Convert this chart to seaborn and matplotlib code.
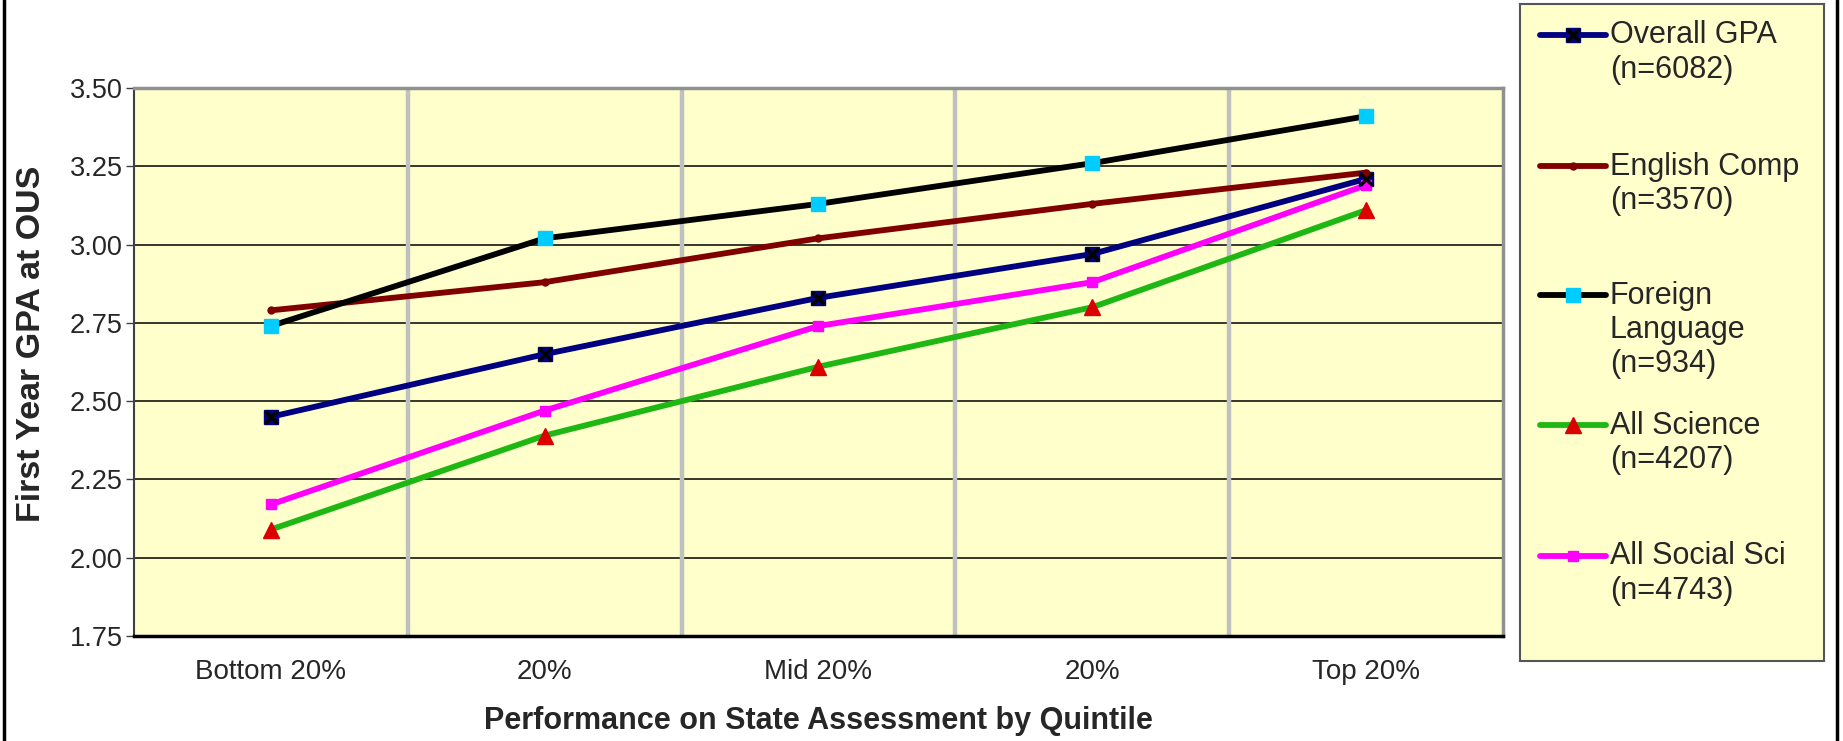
import numpy as np
import pandas as pd
import matplotlib
matplotlib.use("Agg")
import matplotlib.pyplot as plt
import matplotlib.lines as mlines
import seaborn as sns

# ----------------------------
# Data
# ----------------------------
quintiles = ["Bottom 20%", "20%", "Mid 20%", "20% ", "Top 20%"]
tick_labels = ["Bottom 20%", "20%", "Mid 20%", "20%", "Top 20%"]

series_names = ["Overall GPA", "English Comp", "Foreign Language", "All Science", "All Social Sci"]
legend_labels = ["Overall GPA\n(n=6082)", "English Comp\n(n=3570)",
                 "Foreign\nLanguage\n(n=934)", "All Science\n(n=4207)",
                 "All Social Sci\n(n=4743)"]

overall_gpa = [2.45, 2.65, 2.83, 2.97, 3.21]
english_comp = [2.79, 2.88, 3.02, 3.13, 3.23]
foreign_lang = [2.74, 3.02, 3.13, 3.26, 3.41]
all_science = [2.09, 2.39, 2.61, 2.80, 3.11]
all_social = [2.17, 2.47, 2.74, 2.88, 3.19]

y_ticks = [1.75, 2.00, 2.25, 2.50, 2.75, 3.00, 3.25, 3.50]

# ----------------------------
# Styles
# ----------------------------
line_colors = {"Overall GPA": "#000080", "English Comp": "#800000",
               "Foreign Language": "#000000", "All Science": "#1FB714",
               "All Social Sci": "#FF00FF"}
markers = {"Overall GPA": "s", "English Comp": "o", "Foreign Language": "s",
           "All Science": "^", "All Social Sci": "s"}
marker_face = {"Overall GPA": "#000080", "English Comp": "#800000",
               "Foreign Language": "#00CCFF", "All Science": "#DD0000",
               "All Social Sci": "#FF00FF"}
marker_size = {"Overall GPA": 10, "English Comp": 5, "Foreign Language": 10,
               "All Science": 11, "All Social Sci": 7}

values = [overall_gpa, english_comp, foreign_lang, all_science, all_social]
df = pd.DataFrame({
    "quintile": quintiles * len(series_names),
    "gpa": np.concatenate(values),
    "series": np.repeat(series_names, len(quintiles)),
})

FONT = "Liberation Sans"
sns.set_style("white")
plt.rcParams["font.family"] = [FONT, "DejaVu Sans"]

fig = plt.figure(figsize=(18.43, 7.41), dpi=100)
ax = fig.add_axes([0.0727, 0.1417, 0.7428, 0.7395])
ax.set_facecolor("#FFFFCC")

# lines (seaborn), then markers on top per series
sns.lineplot(data=df, x="quintile", y="gpa", hue="series", hue_order=series_names,
             palette=line_colors, sort=False, linewidth=4.2, legend=False,
             ax=ax, zorder=3)
xpos = np.arange(len(quintiles))
for name, vals in zip(series_names, values):
    ax.plot(xpos, vals, linestyle="none", marker=markers[name],
            markersize=marker_size[name], markerfacecolor=marker_face[name],
            markeredgecolor=marker_face[name], zorder=4)
ax.plot(xpos, overall_gpa, linestyle="none", marker="x", markersize=8,
        markeredgewidth=2.5, color="black", zorder=5)

# axes limits / grid
ax.set_xlim(-0.5, len(quintiles) - 0.5)
ax.set_ylim(1.75, 3.5)
ax.set_yticks(y_ticks)
ax.set_yticklabels([f"{v:.2f}" for v in y_ticks], fontsize=19.5)
ax.set_xticks(xpos)
ax.set_xticklabels(tick_labels, fontsize=20)
ax.set_xticks(np.arange(-0.5, len(quintiles)), minor=True)
ax.tick_params(axis="x", which="major", length=0, pad=16.5)
ax.tick_params(axis="x", which="minor", length=6, width=1, color="#404040",
               direction="out")
ax.tick_params(axis="y", length=6, width=1, color="#404040", direction="out",
               pad=2, left=True)
for y in y_ticks[1:-1]:
    ax.axhline(y, color="black", linewidth=1.1, zorder=1)
for xb in np.arange(0.5, len(quintiles) - 0.5):
    ax.axvline(xb, color="#C0C0C0", linewidth=3.2, zorder=1)

ax.spines["left"].set_color("#404040")
ax.spines["left"].set_linewidth(1.5)
ax.spines["bottom"].set_color("black")
ax.spines["bottom"].set_linewidth(2.5)
for s in ("top", "right"):
    ax.spines[s].set_visible(True)
    ax.spines[s].set_color("#909090")
    ax.spines[s].set_linewidth(2.5)

ax.set_xlabel("Performance on State Assessment by Quintile", fontsize=22,
              fontweight="bold", labelpad=15)
ax.set_ylabel("First Year GPA at OUS", fontsize=24.5, fontweight="bold")
ax.yaxis.set_label_coords(-0.0638, 0.533)

# ----------------------------
# Legend box (drawn in its own axes, handles aligned with first text line)
# ----------------------------
lax = fig.add_axes([0.8247, 0.108, 0.165, 0.8866])
lax.set_facecolor("#FFFFCC")
lax.set_xlim(0, 1)
lax.set_ylim(0, 1)
lax.set_xticks([])
lax.set_yticks([])
for s in lax.spines.values():
    s.set_color("#555555")
    s.set_linewidth(1.5)
entry_y = [0.953, 0.753, 0.557, 0.359, 0.160]
for name, label, ly in zip(series_names, legend_labels, entry_y):
    lax.add_line(mlines.Line2D([0.066, 0.283], [ly, ly], color=line_colors[name],
                               linewidth=4.2))
    lax.add_line(mlines.Line2D([0.1745], [ly], linestyle="none", marker=markers[name],
                               markersize=marker_size[name],
                               markerfacecolor=marker_face[name],
                               markeredgecolor=marker_face[name]))
    if name == "Overall GPA":
        lax.add_line(mlines.Line2D([0.1745], [ly], linestyle="none", marker="x",
                                   markersize=8, markeredgewidth=2.5, color="black"))
    lax.text(0.296, ly + 0.022, label, fontsize=22, va="top", ha="left",
             linespacing=1.18)

# outer chart border (left and right edges)
fig.add_artist(mlines.Line2D([0.0022, 0.0022], [0, 1], color="black", linewidth=2.5,
                             transform=fig.transFigure))
fig.add_artist(mlines.Line2D([0.9967, 0.9967], [0, 1], color="black", linewidth=2.5,
                             transform=fig.transFigure))

fig.savefig("out.png", dpi=100, facecolor="white")
